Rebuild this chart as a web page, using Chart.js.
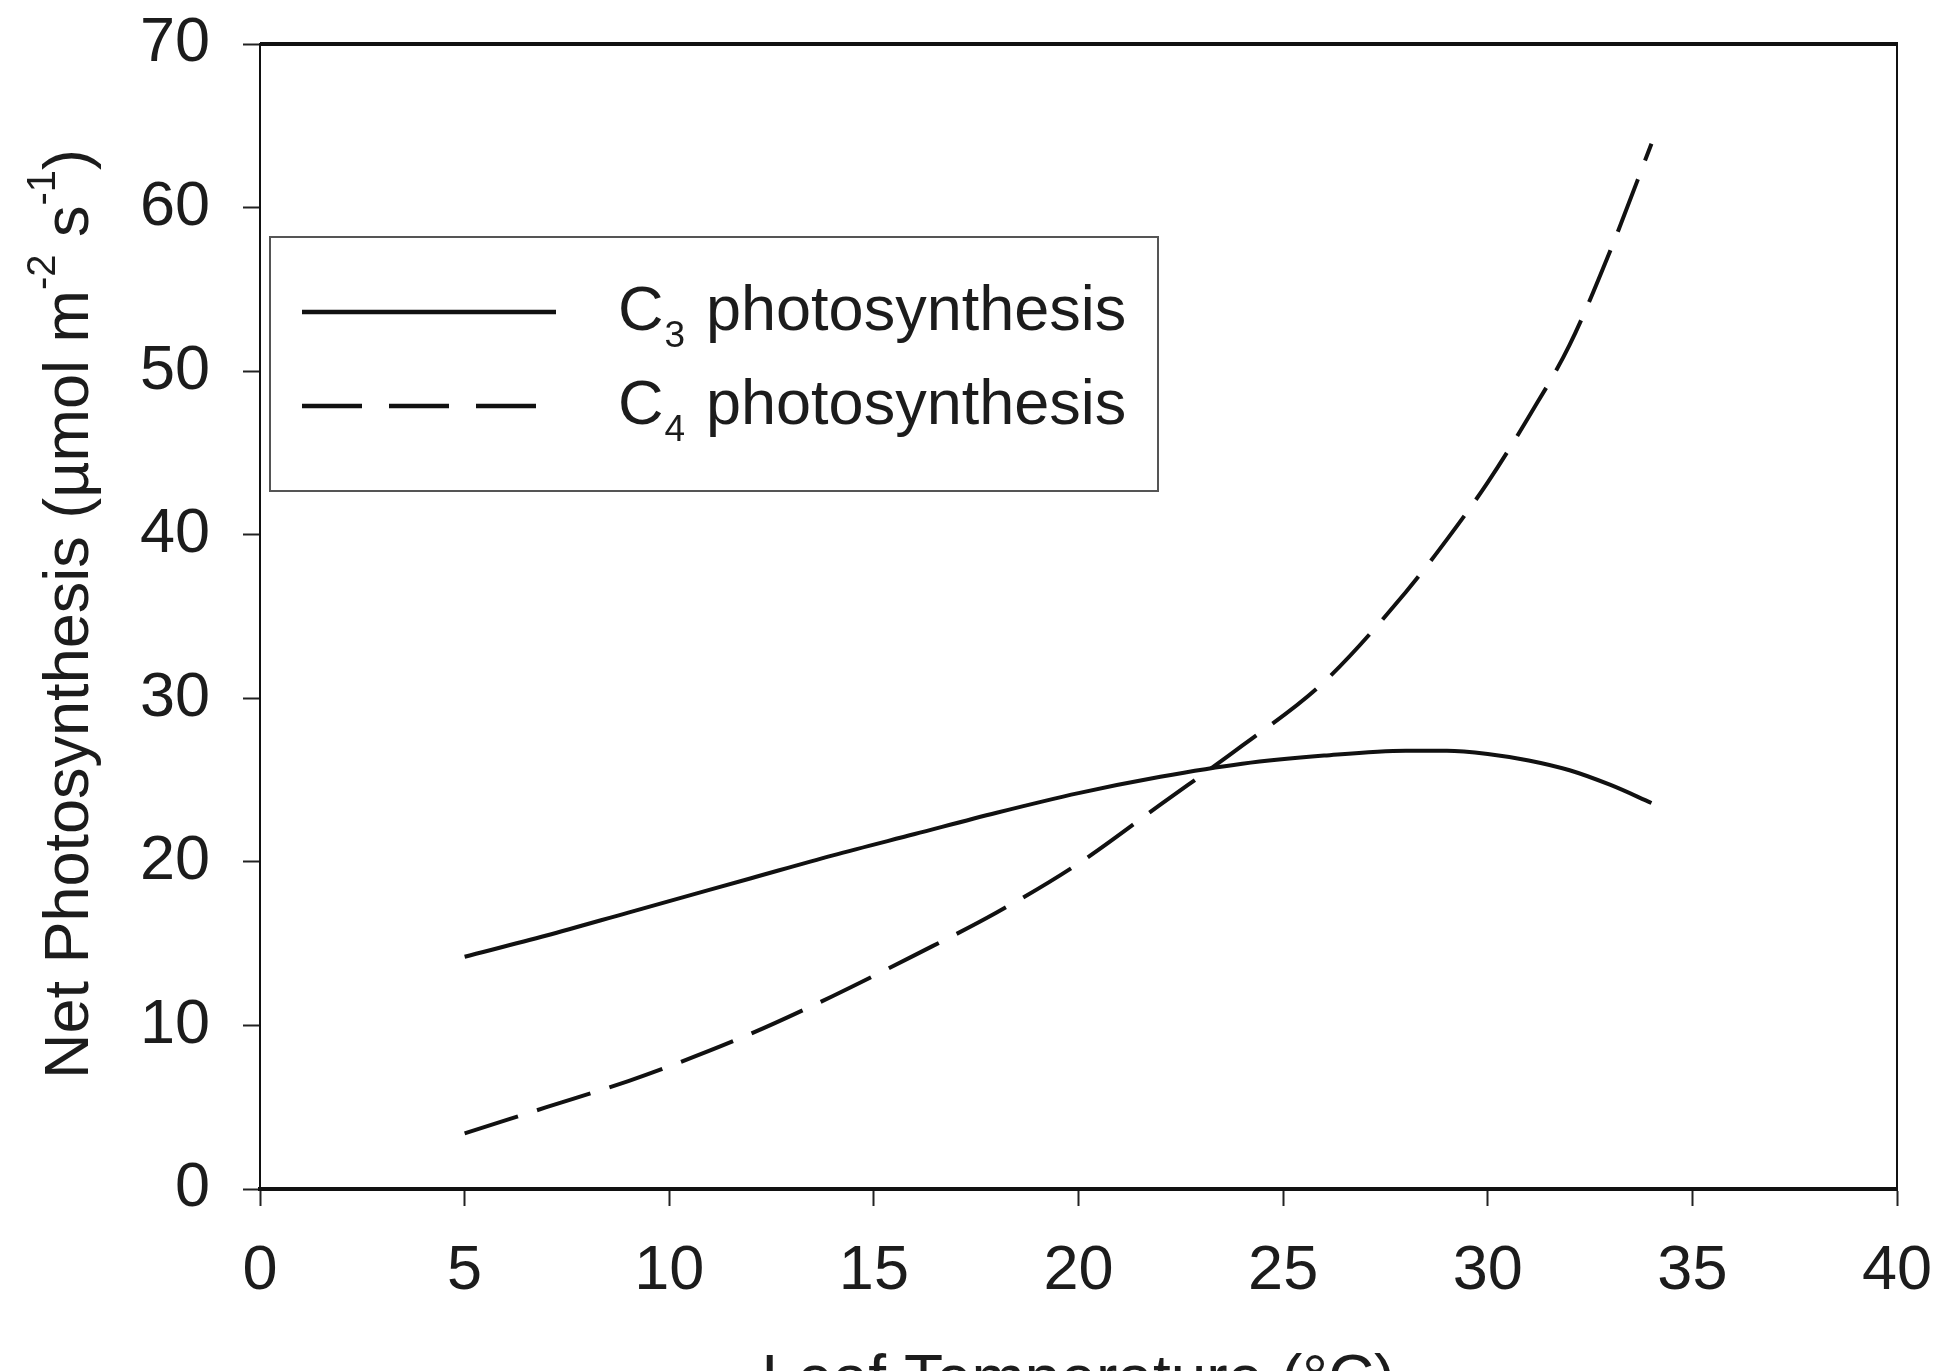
<!DOCTYPE html>
<html>
<head>
<meta charset="utf-8">
<script src="https://cdn.jsdelivr.net/npm/chart.js@4.4.1/dist/chart.umd.min.js"></script>
<style>
  html, body { margin: 0; padding: 0; background: #fff; overflow: hidden; }
  #wrap { width: 1959px; height: 1371px; }
</style>
</head>
<body>
<div id="wrap"><canvas id="chart" width="1959" height="1371"></canvas></div>
<script>
// Leaf temperature (°C) and net photosynthesis
const temps = [5, 7, 9, 10, 12, 14, 16, 18, 20, 22, 24, 26, 28, 29, 30, 31, 32, 33, 34];
const c3Values = [14.2, 15.5, 16.9, 17.6, 19.0, 20.4, 21.7, 23.0, 24.2, 25.2, 26.0, 26.5, 26.8, 26.8, 26.6, 26.2, 25.6, 24.7, 23.6];
const c4Values = [3.4, 5.0, 6.6, 7.5, 9.5, 11.8, 14.3, 16.9, 19.9, 23.5, 27.1, 31.0, 36.5, 39.7, 43.2, 47.2, 51.6, 57.4, 63.9];

const xTicks = [0, 5, 10, 15, 20, 25, 30, 35, 40];
const yTicks = [0, 10, 20, 30, 40, 50, 60, 70];

const seriesNames = ['C3 photosynthesis', 'C4 photosynthesis'];
const legendSubs = ['3', '4'];

const FONT = '"Liberation Sans", Arial, Helvetica, sans-serif';
const INK = '#1c1c1c';

function toPoints(xs, ys) {
    return xs.map((x, i) => ({ x: x, y: ys[i] }));
}

// frame, legend and axis titles (titles carry super/subscripts)
const extras = {
    id: 'extras',
    afterDraw(chart) {
        const ctx = chart.ctx;
        const a = chart.chartArea;
        ctx.save();

        // top and right sides of the frame
        ctx.strokeStyle = '#111';
        ctx.lineWidth = 4;
        ctx.beginPath();
        ctx.moveTo(a.left, a.top);
        ctx.lineTo(a.right + 1, a.top);
        ctx.stroke();
        ctx.lineWidth = 2;
        ctx.beginPath();
        ctx.moveTo(a.right, a.top);
        ctx.lineTo(a.right, a.bottom);
        ctx.stroke();

        // legend box
        const lx = a.left + 10, ly = a.top + 193, lw = 888, lh = 254;
        ctx.fillStyle = '#fff';
        ctx.fillRect(lx, ly, lw, lh);
        ctx.strokeStyle = '#555';
        ctx.lineWidth = 2;
        ctx.strokeRect(lx, ly, lw, lh);

        const rows = [ly + 75, ly + 169];
        const dashes = [[], [60, 27]];
        const lineEnds = [lx + 286, lx + 267];
        ctx.strokeStyle = '#111';
        ctx.lineWidth = 4.5;
        rows.forEach((ry, i) => {
            ctx.setLineDash(dashes[i]);
            ctx.beginPath();
            ctx.moveTo(lx + 32, ry);
            ctx.lineTo(lineEnds[i], ry);
            ctx.stroke();
        });
        ctx.setLineDash([]);

        ctx.fillStyle = INK;
        ctx.textBaseline = 'alphabetic';
        ctx.textAlign = 'left';
        rows.forEach((ry, i) => {
            const base = ry + 18;
            const tx = lx + 348;
            ctx.font = '63px ' + FONT;
            ctx.fillText('C', tx, base);
            const cw = ctx.measureText('C').width;
            ctx.font = '37px ' + FONT;
            ctx.fillText(legendSubs[i], tx + cw + 1, base + 17);
            ctx.font = '63px ' + FONT;
            ctx.fillText('photosynthesis', tx + 88, base);
        });

        // x axis title
        ctx.font = '64px ' + FONT;
        ctx.textAlign = 'center';
        ctx.fillText('Leaf Temperature (°C)', (a.left + a.right) / 2, 1400);

        // y axis title, rotated, with superscripts
        const parts = [
            ['Net Photosynthesis (µmol m', 63, 0],
            ['-2', 40, -33],
            [' s', 63, 0],
            ['-1', 40, -33],
            [')', 63, 0]
        ];
        let total = 0;
        parts.forEach(p => {
            ctx.font = p[1] + 'px ' + FONT;
            total += ctx.measureText(p[0]).width;
        });
        ctx.translate(88, 614);
        ctx.rotate(-Math.PI / 2);
        ctx.textAlign = 'left';
        let px = -total / 2;
        parts.forEach(p => {
            ctx.font = p[1] + 'px ' + FONT;
            ctx.fillText(p[0], px, p[2]);
            px += ctx.measureText(p[0]).width;
        });
        ctx.restore();
    }
};

function noPad(s) {
    s.paddingTop = 0;
    s.paddingBottom = 0;
    s.paddingLeft = 0;
    s.paddingRight = 0;
}

const ctx = document.getElementById('chart').getContext('2d');
const chart = new Chart(ctx, {
    type: 'line',
    data: {
        datasets: [{
            label: seriesNames[0],
            data: toPoints(temps, c3Values),
            borderColor: '#111',
            borderWidth: 4,
            pointRadius: 0,
            fill: false,
            cubicInterpolationMode: 'monotone'
        }, {
            label: seriesNames[1],
            data: toPoints(temps, c4Values),
            borderColor: '#111',
            borderWidth: 4,
            borderDash: [56, 20],
            pointRadius: 0,
            fill: false,
            cubicInterpolationMode: 'monotone'
        }]
    },
    options: {
        responsive: false,
        animation: false,
        devicePixelRatio: 1,
        layout: { padding: { left: 0, right: 62, top: 44, bottom: 0 } },
        plugins: {
            legend: { display: false },
            tooltip: { enabled: false }
        },
        scales: {
            x: {
                type: 'linear',
                min: 0,
                max: 40,
                afterBuildTicks: s => { s.ticks = xTicks.map(v => ({ value: v })); },
                afterFit: s => { s.height = 182; noPad(s); },
                ticks: {
                    font: { family: FONT, size: 63 },
                    color: INK,
                    padding: 28,
                    maxRotation: 0,
                    autoSkip: false
                },
                grid: {
                    drawOnChartArea: false,
                    drawTicks: true,
                    tickLength: 17,
                    tickWidth: 2,
                    tickColor: '#222'
                },
                border: { display: true, color: '#111', width: 4 }
            },
            y: {
                type: 'linear',
                min: 0,
                max: 70,
                afterBuildTicks: s => { s.ticks = yTicks.map(v => ({ value: v })); },
                afterFit: s => { s.width = 260; noPad(s); },
                ticks: {
                    font: { family: FONT, size: 63 },
                    color: INK,
                    padding: 33
                },
                grid: {
                    drawOnChartArea: false,
                    drawTicks: true,
                    tickLength: 17,
                    tickWidth: 2,
                    tickColor: '#222'
                },
                border: { display: true, color: '#111', width: 2 }
            }
        }
    },
    plugins: [extras]
});
</script>
</body>
</html>
